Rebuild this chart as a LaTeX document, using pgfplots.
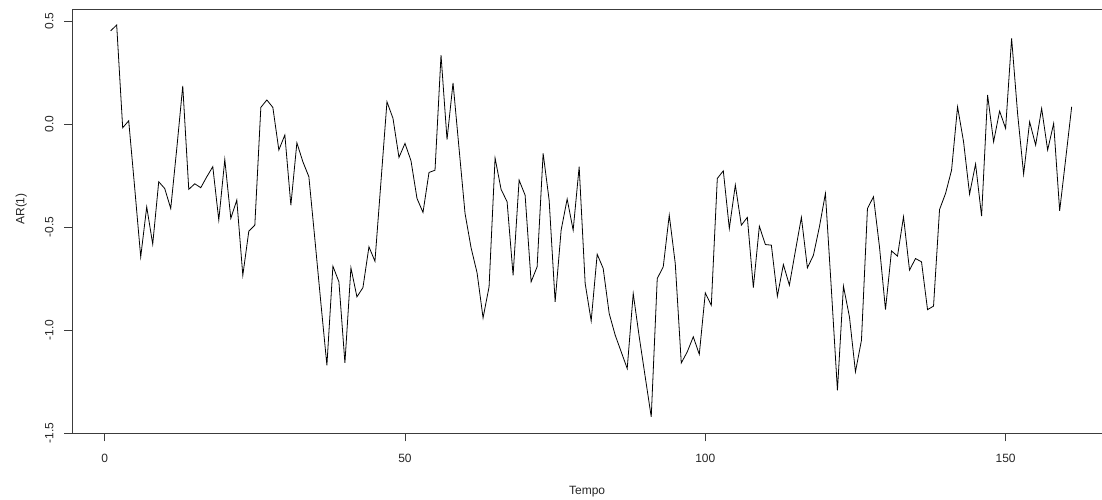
\documentclass[border=0pt]{standalone}
\usepackage{fontspec}
\setmainfont{Liberation Sans}
\usepackage{pgfplots}
\pgfplotsset{compat=1.18}
\definecolor{AxisGray}{HTML}{3C3C3C}

\pgfplotstableread{
t y
1 0.453
2 0.481
3 -0.018
4 0.016
5 -0.31
6 -0.645
7 -0.402
8 -0.583
9 -0.280
10 -0.313
11 -0.410
12 -0.12
13 0.185
14 -0.317
15 -0.290
16 -0.309
17 -0.256
18 -0.207
19 -0.466
20 -0.172
21 -0.458
22 -0.369
23 -0.734
24 -0.520
25 -0.491
26 0.081
27 0.117
28 0.081
29 -0.126
30 -0.053
31 -0.394
32 -0.091
33 -0.183
34 -0.256
35 -0.56
36 -0.87
37 -1.171
38 -0.690
39 -0.766
40 -1.160
41 -0.698
42 -0.839
43 -0.794
44 -0.596
45 -0.666
46 -0.28
47 0.108
48 0.028
49 -0.162
50 -0.094
51 -0.178
52 -0.361
53 -0.429
54 -0.235
55 -0.224
56 0.335
57 -0.075
58 0.200
59 -0.118
60 -0.434
61 -0.600
62 -0.722
63 -0.941
64 -0.790
65 -0.165
66 -0.317
67 -0.377
68 -0.734
69 -0.272
70 -0.345
71 -0.766
72 -0.693
73 -0.142
74 -0.369
75 -0.863
76 -0.515
77 -0.364
78 -0.515
79 -0.207
80 -0.774
81 -0.956
82 -0.632
83 -0.701
84 -0.920
85 -1.025
86 -1.106
87 -1.187
88 -0.823
89 -1.033
90 -1.228
91 -1.422
92 -0.750
93 -0.693
94 -0.442
95 -0.677
96 -1.160
97 -1.106
98 -1.033
99 -1.118
100 -0.820
101 -0.880
102 -0.264
103 -0.227
104 -0.507
105 -0.296
106 -0.491
107 -0.453
108 -0.794
109 -0.496
110 -0.585
111 -0.588
112 -0.836
113 -0.682
114 -0.782
115 -0.616
116 -0.453
117 -0.698
118 -0.637
119 -0.499
120 -0.337
121 -0.807
122 -1.293
123 -0.787
124 -0.936
125 -1.203
126 -1.050
127 -0.410
128 -0.353
129 -0.596
130 -0.901
131 -0.616
132 -0.641
133 -0.450
134 -0.709
135 -0.653
136 -0.669
137 -0.901
138 -0.884
139 -0.415
140 -0.337
141 -0.224
142 0.084
143 -0.086
144 -0.340
145 -0.194
146 -0.447
147 0.141
148 -0.086
149 0.063
150 -0.021
151 0.416
152 0.05
153 -0.243
154 0.011
155 -0.102
156 0.076
157 -0.126
158 0.003
159 -0.421
160 -0.17
161 0.084
}\arseries

\begin{document}
\begin{tikzpicture}
% fixed page: 1102 x 500 units, axis box origin at its lower-left corner
\path[use as bounding box] (-72.3pt,-66.7pt) rectangle (1029.7pt,433.3pt);
\begin{axis}[
  scale only axis,
  width=1029.7pt,
  height=424pt,
  xmin=-5.39, xmax=166.05,
  ymin=-1.5015, ymax=0.5573,
  axis x line*=box,
  axis y line*=left,
  axis line style={draw=AxisGray,line width=0.8pt},
  xtick pos=bottom,
  ytick pos=left,
  tick align=outside,
  major tick length=8pt,
  tick style={draw=AxisGray,line width=0.8pt},
  xtick={0,50,100,150},
  xticklabels={0,50,100,150},
  ytick={-1.5,-1,-0.5,0,0.5},
  yticklabels={-1.5,-1.0,-0.5,0.0,0.5},
  tick label style={font=\fontsize{12}{14}\selectfont,text=black!85},
  xticklabel style={anchor=base,yshift=-21.5pt},
  % rotated frame: yshift moves the label to the left
  yticklabel style={rotate=90,anchor=base,yshift=11pt},
  xlabel={Tempo},
  ylabel={AR(1)},
  label style={font=\fontsize{12}{14}\selectfont,text=black!85},
  xlabel style={at={(axis description cs:0.5,0)},anchor=base,yshift=-61pt},
  ylabel style={at={(axis description cs:0,0.529)},anchor=base,yshift=48pt},
]
\addplot[black,line width=0.8pt,mark=none] table[x=t,y=y] {\arseries};
\end{axis}
\end{tikzpicture}
\end{document}
